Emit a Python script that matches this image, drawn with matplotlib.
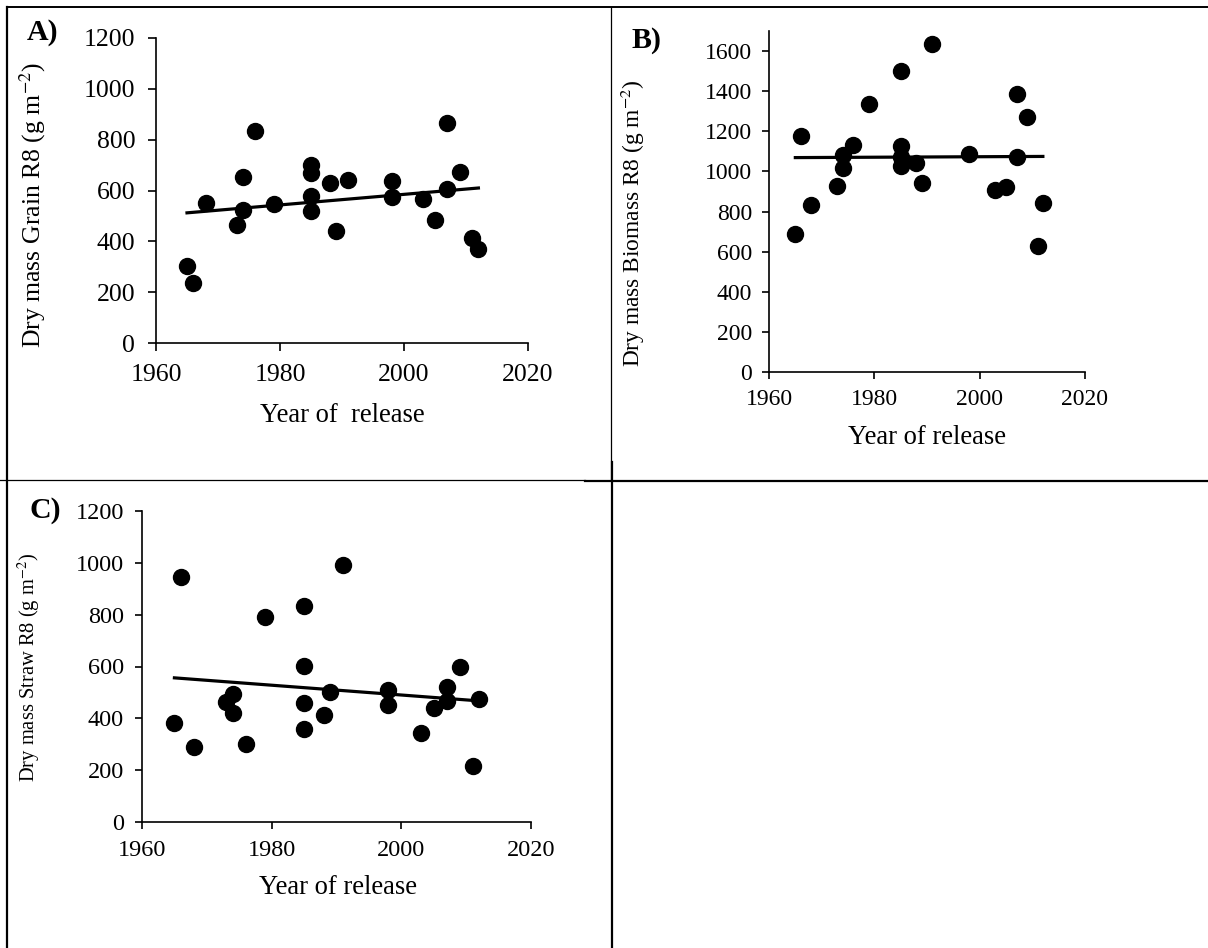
import numpy as np
import matplotlib.pyplot as plt
from matplotlib.lines import Line2D

plt.rcParams['font.family'] = ['Liberation Serif', 'DejaVu Serif']
plt.rcParams['mathtext.fontset'] = 'stix'

# panel A - grain
grain_year = [1965, 1966, 1968, 1973, 1974, 1974, 1976, 1979, 1985, 1985, 1985, 1985,
              1988, 1989, 1991, 1998, 1998, 2003, 2005, 2007, 2007, 2009, 2011, 2012]
grain = [303, 236, 550, 463, 654, 523, 834, 547, 699, 670, 578, 520,
         631, 442, 641, 639, 576, 565, 484, 864, 605, 674, 414, 369]

# panel B - biomass
bio_year = [1965, 1966, 1968, 1973, 1974, 1974, 1976, 1979, 1985, 1985, 1985, 1985,
            1988, 1989, 1991, 1998, 2003, 2005, 2007, 2007, 2009, 2011, 2012]
biomass = [687, 1178, 835, 928, 1016, 1082, 1132, 1336, 1499, 1127, 1074, 1029,
           1041, 943, 1635, 1087, 905, 921, 1384, 1071, 1273, 626, 842]

# panel C - straw
straw_year = [1965, 1966, 1968, 1973, 1974, 1974, 1976, 1979, 1985, 1985, 1985, 1985,
              1988, 1989, 1991, 1998, 1998, 2003, 2005, 2007, 2007, 2009, 2011, 2012]
straw = [382, 944, 288, 462, 495, 422, 302, 790, 832, 603, 459, 359,
         413, 503, 993, 508, 453, 343, 439, 521, 467, 598, 216, 473]

W, H = 1208, 948
fig = plt.figure(figsize=(W / 100, H / 100), dpi=100)


def px_axes(x0, x1, y0, y1):
    # pixel box -> figure fraction
    return fig.add_axes([x0 / W, 1 - y0 / H, (x1 - x0) / W, (y0 - y1) / H])


def panel(ax, x, y, ylim, yticks, fs, ms, tlen, pad):
    ax.plot(x, y, 'o', color='black', ms=ms, zorder=3)
    coef = np.polyfit(x, y, 1)
    xx = np.array([min(x), max(x)])
    ax.plot(xx, np.polyval(coef, xx), color='black', lw=2.3)
    ax.set_xlim(1960, 2020)
    ax.set_ylim(*ylim)
    ax.set_xticks([1960, 1980, 2000, 2020])
    ax.set_yticks(yticks)
    for s in ['top', 'right']:
        ax.spines[s].set_visible(False)
    for s in ['left', 'bottom']:
        ax.spines[s].set_linewidth(1.2)
    ax.tick_params(direction='out', length=tlen, width=1.2, labelsize=fs, pad=pad)
    for lab in ax.get_xticklabels() + ax.get_yticklabels():
        lab.set_clip_on(False)


axA = px_axes(156, 528, 343, 38)
panel(axA, grain_year, grain, (0, 1200), range(0, 1201, 200), 18.5, 11.5, 6, 9)
axB = px_axes(769, 1085, 372, 31)
panel(axB, bio_year, biomass, (0, 1700), range(0, 1601, 200), 17, 11.5, 5, 7)
axC = px_axes(142, 531, 822, 511)
panel(axC, straw_year, straw, (0, 1200), range(0, 1201, 200), 17.5, 11.5, 5, 8)

def ftext(x, y, s, **kw):
    fig.text(x / W, 1 - y / H, s, ha='center', va='center', **kw)

ftext(33, 205, 'Dry mass Grain R8 (g m$^{-2}$)', fontsize=18.5, rotation=90)
ftext(633, 223, 'Dry mass Biomass R8 (g m$^{-2}$)', fontsize=16.8, rotation=90)
ftext(29, 667, 'Dry mass Straw R8 (g m$^{-2}$)', fontsize=14.8, rotation=90)

ftext(342, 415, 'Year of  release', fontsize=19.2)
ftext(927, 437, 'Year of release', fontsize=19.2)
ftext(338, 888, 'Year of release', fontsize=19.2)

ftext(43, 33, 'A)', fontsize=21.5, fontweight='bold')
ftext(647, 41, 'B)', fontsize=21.5, fontweight='bold')
ftext(45, 511, 'C)', fontsize=21.5, fontweight='bold')


def frame(x0, y0, x1, y1, lw):
    fig.add_artist(Line2D([x0 / W, x1 / W], [1 - y0 / H, 1 - y1 / H],
                          color='black', lw=lw, transform=fig.transFigure))

frame(7, 7, 1208, 7, 1.4)
frame(7, 7, 7, 948, 1.6)
frame(611, 7, 611, 480, 0.9)
frame(612, 462, 612, 948, 1.6)
frame(0, 480, 585, 480, 0.9)
frame(585, 481, 1208, 481, 1.6)

fig.savefig('out.png', dpi=100)
